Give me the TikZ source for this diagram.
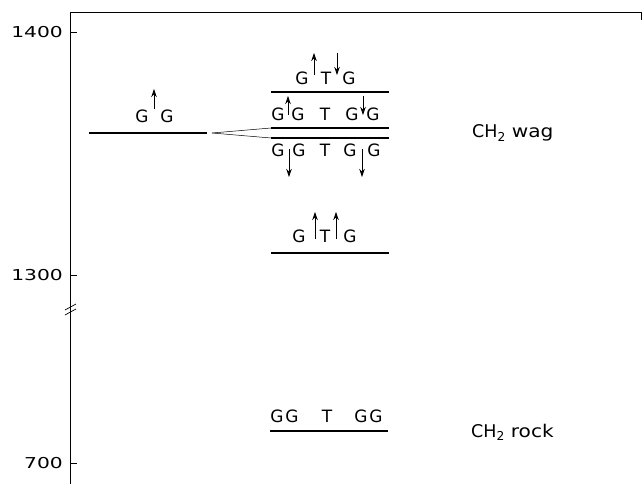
\documentclass[tikz,border=0pt]{standalone}
\usepackage{fontspec}
\setmainfont{DejaVu Sans}
\usetikzlibrary{arrows.meta}
\newfontfamily\plotfont{DejaVu Sans}
\newcommand{\wide}[1]{\scalebox{1.15}[1]{#1}}
\tikzset{
  lt/.style={font=\plotfont\fontsize{17}{19}\selectfont, inner sep=0pt, anchor=base},
  num/.style={font=\plotfont\fontsize{15}{17}\selectfont, inner sep=0pt, anchor=base east},
  lbl/.style={font=\plotfont\fontsize{17.5}{20}\selectfont, inner sep=0pt, anchor=base west},
  level/.style={line width=1.2pt},
  axisline/.style={line width=0.7pt},
  spin/.style={line width=0.8pt, -{Stealth[length=8pt,width=5.5pt]}},
  conn/.style={line width=0.5pt}
}
\begin{document}
\begin{tikzpicture}[x=1pt,y=-1pt]
\useasboundingbox (0,0) rectangle (642,484);
% axis and frame
\coordinate (axtop) at (70,12);
\coordinate (axbot) at (70,484);
\coordinate (frR) at (641,12);
\coordinate (frRd) at (641,20);
\draw[axisline] (axbot) -- (axtop) -- (frR) -- (frRd);
% ticks
\coordinate (t1a) at (70,32);   \coordinate (t1b) at (77,32);
\coordinate (t2a) at (70,275);  \coordinate (t2b) at (77,275);
\coordinate (t3a) at (70,463);  \coordinate (t3b) at (77,463);
\draw[axisline] (t1a) -- (t1b) (t2a) -- (t2b) (t3a) -- (t3b);
\node[num] (n1400) at (63,37.5) {\scalebox{1.35}[1]{1400}};
\node[num] (n1300) at (63,280.5) {\scalebox{1.35}[1]{1300}};
\node[num] (n700) at (63,468.5) {\scalebox{1.35}[1]{700}};
% axis break
\coordinate (b1a) at (65,310); \coordinate (b1b) at (76,304);
\coordinate (b2a) at (65,315); \coordinate (b2b) at (76,309);
\draw[axisline] (b1a) -- (b1b) (b2a) -- (b2b);
% levels
\coordinate (L0a) at (89,133);  \coordinate (L0b) at (207,133);
\coordinate (C0) at (212,133);
\coordinate (L1a) at (271,92);  \coordinate (L1b) at (389,92);
\coordinate (L2a) at (271,128); \coordinate (L2b) at (389,128);
\coordinate (L3a) at (271,138); \coordinate (L3b) at (389,138);
\coordinate (L4a) at (271,253); \coordinate (L4b) at (389,253);
\coordinate (L5a) at (270,431); \coordinate (L5b) at (388,431);
\draw[level] (L0a) -- (L0b);
\draw[level] (L1a) -- (L1b);
\draw[level] (L2a) -- (L2b);
\draw[level] (L3a) -- (L3b);
\draw[level] (L4a) -- (L4b);
\draw[level] (L5a) -- (L5b);
\draw[conn] (C0) -- (L2a);
\draw[conn] (C0) -- (L3a);
% left G^G
\node[lt] (g0a) at (142,122) {G};
\node[lt] (g0b) at (167,122) {G};
\coordinate (a0s) at (154,109); \coordinate (a0e) at (154,89);
\draw[spin] (a0s) -- (a0e);
% row 1
\node[lt] (g1a) at (302,85) {G};
\node[lt] (t1) at (326,85) {T};
\node[lt] (g1b) at (349,85) {G};
\coordinate (a1s) at (314,75); \coordinate (a1e) at (314,53);
\coordinate (a2s) at (337,53); \coordinate (a2e) at (337,75);
\draw[spin] (a1s) -- (a1e);
\draw[spin] (a2s) -- (a2e);
% row 2
\node[lt] (g2a) at (278,121) {G};
\node[lt] (g2b) at (298,121) {G};
\node[lt] (t2) at (325,121) {T};
\node[lt] (g2c) at (352,121) {G};
\node[lt] (g2d) at (373,121) {G};
\coordinate (a3s) at (288,115); \coordinate (a3e) at (288,96);
\coordinate (a4s) at (363,96); \coordinate (a4e) at (363,115);
\draw[spin] (a3s) -- (a3e);
\draw[spin] (a4s) -- (a4e);
% row 3
\node[lt] (g3a) at (278,156) {G};
\node[lt] (g3b) at (299,156) {G};
\node[lt] (t3) at (325,156) {T};
\node[lt] (g3c) at (350,156) {G};
\node[lt] (g3d) at (374,156) {G};
\coordinate (a5s) at (289,149); \coordinate (a5e) at (289,177);
\coordinate (a6s) at (362,149); \coordinate (a6e) at (362,177);
\draw[spin] (a5s) -- (a5e);
\draw[spin] (a6s) -- (a6e);
% row 4
\node[lt] (g4a) at (299,242) {G};
\node[lt] (t4) at (325,242) {T};
\node[lt] (g4b) at (350,242) {G};
\coordinate (a7s) at (315,239); \coordinate (a7e) at (315,212);
\coordinate (a8s) at (336,239); \coordinate (a8e) at (336,212);
\draw[spin] (a7s) -- (a7e);
\draw[spin] (a8s) -- (a8e);
% row 5
\node[lt] (g5a) at (277,422) {G};
\node[lt] (g5b) at (292,422) {G};
\node[lt] (t5) at (327,422) {T};
\node[lt] (g5c) at (361,422) {G};
\node[lt] (g5d) at (376,422) {G};
% labels
\node[lbl] (wag) at (472,138) {CH\textsubscript{2}\hspace{6pt}\wide{wag}};
\node[lbl] (rock) at (471,437) {CH\textsubscript{2}\hspace{6pt}\wide{rock}};
\end{tikzpicture}
\end{document}
